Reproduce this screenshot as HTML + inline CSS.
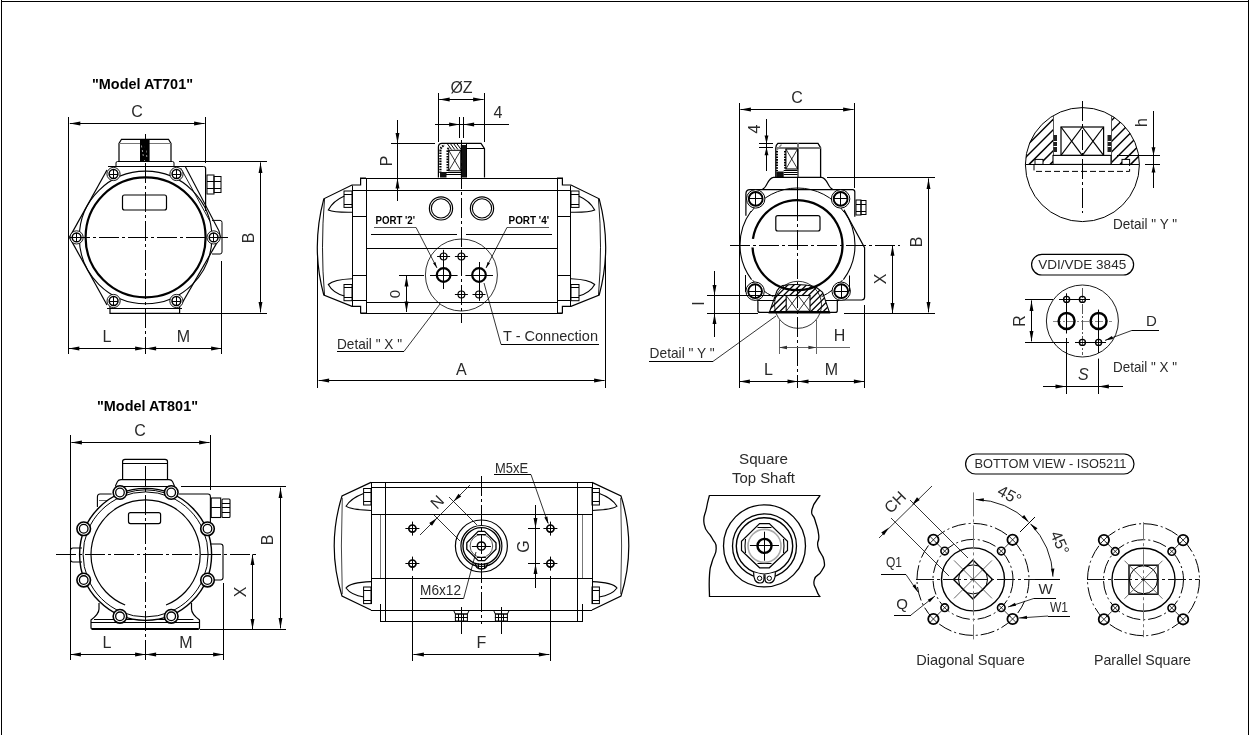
<!DOCTYPE html>
<html><head><meta charset="utf-8"><style>
html,body{margin:0;padding:0;background:#fff;width:1250px;height:735px;overflow:hidden}
svg{display:block;font-family:"Liberation Sans", sans-serif;will-change:transform}
</style></head><body>
<svg width="1250" height="735" viewBox="0 0 1250 735">
<defs><pattern id="hatch" patternUnits="userSpaceOnUse" width="4.6" height="4.6" patternTransform="rotate(45)"><line x1="0" y1="0" x2="0" y2="4.6" stroke="#000" stroke-width="1.35"/></pattern><pattern id="hatch2" patternUnits="userSpaceOnUse" width="6.4" height="6.4" patternTransform="rotate(45)"><line x1="0" y1="0" x2="0" y2="6.4" stroke="#000" stroke-width="1.7"/></pattern></defs>
<line x1="1.5" y1="0" x2="1.5" y2="735" stroke="#000" stroke-width="1"/>
<line x1="1" y1="1.5" x2="1249" y2="1.5" stroke="#000" stroke-width="1"/>
<line x1="1248.5" y1="0" x2="1248.5" y2="735" stroke="#000" stroke-width="1"/>
<text x="142.5" y="89" font-size="14" font-weight="bold" text-anchor="middle" fill="#000" textLength="101" lengthAdjust="spacingAndGlyphs">"Model AT701"</text>
<text x="137" y="117" font-size="16" font-weight="normal" text-anchor="middle" fill="#2a2a2a">C</text>
<line x1="69.8" y1="123.5" x2="204.6" y2="123.5" stroke="#000" stroke-width="1"/>
<path d="M69.8,123.5 L80.3,121.55 L80.3,125.45 Z" fill="#000" stroke="none"/>
<path d="M204.6,123.5 L194.1,125.45 L194.1,121.55 Z" fill="#000" stroke="none"/>
<line x1="68.5" y1="117" x2="68.5" y2="354" stroke="#000" stroke-width="1"/>
<line x1="205.5" y1="117" x2="205.5" y2="163" stroke="#000" stroke-width="1"/>
<path d="M119,161 V143.5 L121.5,139.3 H168.5 L171,143.5 V161" fill="none" stroke="#000" stroke-width="1.2"/>
<line x1="119" y1="143.5" x2="171" y2="143.5" stroke="#777" stroke-width="1"/>
<rect x="140" y="139.5" width="9.6" height="21.5" fill="#000" stroke="none"/>
<line x1="141.5" y1="145.5" x2="141.7" y2="147.5" stroke="#fff" stroke-width="0.6"/>
<line x1="142.3" y1="150" x2="142.6" y2="152" stroke="#fff" stroke-width="0.6"/>
<line x1="143" y1="154" x2="143.3" y2="156" stroke="#fff" stroke-width="0.6"/>
<line x1="144.5" y1="160" x2="144.7" y2="162" stroke="#fff" stroke-width="0.6"/>
<line x1="145.4" y1="146.5" x2="145.5" y2="148.5" stroke="#fff" stroke-width="0.6"/>
<line x1="146" y1="150.5" x2="146.2" y2="152.5" stroke="#fff" stroke-width="0.6"/>
<line x1="146.6" y1="155" x2="146.8" y2="157" stroke="#fff" stroke-width="0.6"/>
<line x1="145.5" y1="134" x2="145.5" y2="161" stroke="#000" stroke-width="1"/>
<path d="M116,166.5 V163 Q116,161.5 117.5,161.5 H172.5 Q174,161.5 174,163 V166.5" fill="none" stroke="#000" stroke-width="1"/>
<line x1="119" y1="161.5" x2="171" y2="161.5" stroke="#000" stroke-width="1"/>
<line x1="179" y1="161.5" x2="267" y2="161.5" stroke="#000" stroke-width="1"/>
<line x1="179.6" y1="313.5" x2="267" y2="313.5" stroke="#000" stroke-width="1"/>
<line x1="260.5" y1="162.4" x2="260.5" y2="312.4" stroke="#000" stroke-width="1"/>
<path d="M260.5,162.4 L262.45,172.9 L258.55,172.9 Z" fill="#000" stroke="none"/>
<path d="M260.5,312.4 L258.55,301.9 L262.45,301.9 Z" fill="#000" stroke="none"/>
<text x="254" y="238" font-size="16" font-weight="normal" text-anchor="middle" fill="#2a2a2a" transform="rotate(-90 254 238)">B</text>
<line x1="108" y1="166.5" x2="203.6" y2="166.5" stroke="#000" stroke-width="1"/>
<path d="M203.6,166.5 Q205.6,166.5 205.6,168.5 V211" fill="none" stroke="#000" stroke-width="1.2"/>
<line x1="107" y1="170" x2="69.5" y2="237.4" stroke="#000" stroke-width="1.2"/>
<line x1="69.5" y1="237.4" x2="107" y2="305" stroke="#000" stroke-width="1.2"/>
<line x1="185.4" y1="166.8" x2="219" y2="231" stroke="#000" stroke-width="1.1"/>
<line x1="180.7" y1="168" x2="210" y2="221.3" stroke="#000" stroke-width="0.9"/>
<line x1="220" y1="237.4" x2="181" y2="305" stroke="#000" stroke-width="1.2"/>
<line x1="219" y1="231" x2="220.5" y2="237.4" stroke="#000" stroke-width="1.1"/>
<path d="M110,305 V313.4 H179.6 V305" fill="none" stroke="#000" stroke-width="1.2"/>
<line x1="107" y1="308.5" x2="182" y2="308.5" stroke="#000" stroke-width="1"/>
<circle cx="145.6" cy="237.4" r="66.3" fill="none" stroke="#000" stroke-width="1.1"/>
<circle cx="145.6" cy="237.4" r="60" fill="none" stroke="#000" stroke-width="2.2"/>
<rect x="122.5" y="195" width="44" height="15" rx="2" fill="none" stroke="#000" stroke-width="1.2"/>
<circle cx="113.5" cy="174" r="6.6" fill="#fff" stroke="none"/>
<circle cx="113.5" cy="174" r="6.6" fill="none" stroke="#000" stroke-width="0.9"/>
<circle cx="113.5" cy="174" r="4.4" fill="none" stroke="#000" stroke-width="1.5"/>
<line x1="109.1" y1="174.5" x2="117.9" y2="174.5" stroke="#000" stroke-width="1"/>
<line x1="113.5" y1="169.6" x2="113.5" y2="178.4" stroke="#000" stroke-width="1"/>
<circle cx="176.5" cy="174" r="6.6" fill="#fff" stroke="none"/>
<circle cx="176.5" cy="174" r="6.6" fill="none" stroke="#000" stroke-width="0.9"/>
<circle cx="176.5" cy="174" r="4.4" fill="none" stroke="#000" stroke-width="1.5"/>
<line x1="172.1" y1="174.5" x2="180.9" y2="174.5" stroke="#000" stroke-width="1"/>
<line x1="176.5" y1="169.6" x2="176.5" y2="178.4" stroke="#000" stroke-width="1"/>
<circle cx="76.6" cy="237.4" r="6.6" fill="#fff" stroke="none"/>
<circle cx="76.6" cy="237.4" r="6.6" fill="none" stroke="#000" stroke-width="0.9"/>
<circle cx="76.6" cy="237.4" r="4.4" fill="none" stroke="#000" stroke-width="1.5"/>
<line x1="72.2" y1="237.5" x2="81" y2="237.5" stroke="#000" stroke-width="1"/>
<line x1="76.5" y1="233" x2="76.5" y2="241.8" stroke="#000" stroke-width="1"/>
<circle cx="213.6" cy="237.4" r="6.6" fill="#fff" stroke="none"/>
<circle cx="213.6" cy="237.4" r="6.6" fill="none" stroke="#000" stroke-width="0.9"/>
<circle cx="213.6" cy="237.4" r="4.4" fill="none" stroke="#000" stroke-width="1.5"/>
<line x1="209.2" y1="237.5" x2="218" y2="237.5" stroke="#000" stroke-width="1"/>
<line x1="213.5" y1="233" x2="213.5" y2="241.8" stroke="#000" stroke-width="1"/>
<circle cx="113.6" cy="301" r="6.6" fill="#fff" stroke="none"/>
<circle cx="113.6" cy="301" r="6.6" fill="none" stroke="#000" stroke-width="0.9"/>
<circle cx="113.6" cy="301" r="4.4" fill="none" stroke="#000" stroke-width="1.5"/>
<line x1="109.2" y1="301.5" x2="118" y2="301.5" stroke="#000" stroke-width="1"/>
<line x1="113.5" y1="296.6" x2="113.5" y2="305.4" stroke="#000" stroke-width="1"/>
<circle cx="176.4" cy="301" r="6.6" fill="#fff" stroke="none"/>
<circle cx="176.4" cy="301" r="6.6" fill="none" stroke="#000" stroke-width="0.9"/>
<circle cx="176.4" cy="301" r="4.4" fill="none" stroke="#000" stroke-width="1.5"/>
<line x1="172" y1="301.5" x2="180.8" y2="301.5" stroke="#000" stroke-width="1"/>
<line x1="176.5" y1="296.6" x2="176.5" y2="305.4" stroke="#000" stroke-width="1"/>
<path d="M212,220.4 H220 Q222,220.4 222,222.4 V252 Q222,254 220,254 H212" fill="none" stroke="#000" stroke-width="1"/>
<rect x="207" y="175" width="7" height="19" fill="none" stroke="#000" stroke-width="1"/>
<rect x="214" y="176.5" width="7" height="16" fill="none" stroke="#000" stroke-width="1"/>
<line x1="207" y1="181.5" x2="214" y2="181.5" stroke="#000" stroke-width="1"/>
<line x1="207" y1="188.5" x2="214" y2="188.5" stroke="#000" stroke-width="1"/>
<line x1="214" y1="181.5" x2="221" y2="181.5" stroke="#000" stroke-width="1"/>
<line x1="214" y1="188.5" x2="221" y2="188.5" stroke="#000" stroke-width="1"/>
<line x1="221.5" y1="261" x2="221.5" y2="354" stroke="#000" stroke-width="1"/>
<line x1="145.5" y1="134" x2="145.5" y2="354" stroke="#000" stroke-width="1" stroke-dasharray="20 3 3 3"/>
<line x1="70" y1="237.5" x2="228" y2="237.5" stroke="#000" stroke-width="1" stroke-dasharray="20 3 3 3"/>
<line x1="68.8" y1="348.5" x2="221.6" y2="348.5" stroke="#000" stroke-width="1"/>
<path d="M68.8,348.5 L79.3,346.55 L79.3,350.45 Z" fill="#000" stroke="none"/>
<path d="M145.6,348.5 L135.1,350.45 L135.1,346.55 Z" fill="#000" stroke="none"/>
<path d="M145.6,348.5 L156.1,346.55 L156.1,350.45 Z" fill="#000" stroke="none"/>
<path d="M221.6,348.5 L211.1,350.45 L211.1,346.55 Z" fill="#000" stroke="none"/>
<text x="107" y="342" font-size="16" font-weight="normal" text-anchor="middle" fill="#2a2a2a">L</text>
<text x="183.5" y="342" font-size="16" font-weight="normal" text-anchor="middle" fill="#2a2a2a">M</text>
<text x="461.5" y="93" font-size="16" font-weight="normal" text-anchor="middle" fill="#2a2a2a">ØZ</text>
<line x1="439.2" y1="99.5" x2="483.6" y2="99.5" stroke="#000" stroke-width="1"/>
<path d="M439.2,99.5 L449.7,97.55 L449.7,101.45 Z" fill="#000" stroke="none"/>
<path d="M483.6,99.5 L473.1,101.45 L473.1,97.55 Z" fill="#000" stroke="none"/>
<line x1="438.5" y1="93" x2="438.5" y2="142" stroke="#000" stroke-width="1"/>
<line x1="484.5" y1="93" x2="484.5" y2="142" stroke="#000" stroke-width="1"/>
<text x="498" y="118" font-size="16" font-weight="normal" text-anchor="middle" fill="#2a2a2a">4</text>
<line x1="435" y1="124.5" x2="509" y2="124.5" stroke="#000" stroke-width="1"/>
<path d="M459.6,124.5 L449.1,126.45 L449.1,122.55 Z" fill="#000" stroke="none"/>
<path d="M463.6,124.5 L474.1,122.55 L474.1,126.45 Z" fill="#000" stroke="none"/>
<line x1="459.5" y1="117" x2="459.5" y2="138" stroke="#000" stroke-width="1"/>
<line x1="463.5" y1="117" x2="463.5" y2="138" stroke="#000" stroke-width="1"/>
<line x1="397.5" y1="120" x2="397.5" y2="201" stroke="#000" stroke-width="1"/>
<path d="M397.5,143.4 L395.55,132.9 L399.45,132.9 Z" fill="#000" stroke="none"/>
<path d="M397.5,178 L399.45,188.5 L395.55,188.5 Z" fill="#000" stroke="none"/>
<line x1="391" y1="143.5" x2="435" y2="143.5" stroke="#000" stroke-width="1"/>
<line x1="391" y1="178.5" x2="435" y2="178.5" stroke="#000" stroke-width="1"/>
<text x="392" y="161" font-size="16" font-weight="normal" text-anchor="middle" fill="#2a2a2a" transform="rotate(-90 392 161)">P</text>
<path d="M438.4,177.5 V147 Q438.4,143.3 442,143.3 H481 L484.5,148.7 V177.5" fill="none" stroke="#000" stroke-width="1.2"/>
<line x1="466.5" y1="143.3" x2="466.5" y2="177.5" stroke="#000" stroke-width="1"/>
<line x1="466" y1="148.5" x2="484.5" y2="148.5" stroke="#000" stroke-width="1"/>
<rect x="448.7" y="150.3" width="12.1" height="20.5" fill="none" stroke="#000" stroke-width="1"/>
<line x1="448.7" y1="150.3" x2="460.8" y2="170.8" stroke="#000" stroke-width="0.8"/>
<line x1="460.8" y1="150.3" x2="448.7" y2="170.8" stroke="#000" stroke-width="0.8"/>
<rect x="460.8" y="145" width="5.2" height="32.5" fill="#111" stroke="none"/>
<path d="M440.4,173 V151 Q440.4,146 445,145.5" fill="none" stroke="#000" stroke-width="2.2" stroke-dasharray="1.6 1.1"/>
<path d="M447.6,171 V151 Q447.6,148 450,147.5" fill="none" stroke="#000" stroke-width="2.2" stroke-dasharray="1.6 1.1"/>
<rect x="440" y="172" width="6.5" height="5.5" fill="#111" stroke="none"/>
<line x1="447.5" y1="144" x2="451.5" y2="149.5" stroke="#000" stroke-width="1"/>
<line x1="450.7" y1="144" x2="454.7" y2="149.5" stroke="#000" stroke-width="1"/>
<line x1="453.9" y1="144" x2="457.9" y2="149.5" stroke="#000" stroke-width="1"/>
<line x1="457.1" y1="144" x2="461.1" y2="149.5" stroke="#000" stroke-width="1"/>
<line x1="446" y1="172.5" x2="461" y2="172.5" stroke="#000" stroke-width="1"/>
<line x1="446" y1="174.5" x2="461" y2="174.5" stroke="#000" stroke-width="1"/>
<line x1="360.6" y1="178.5" x2="562.4" y2="178.5" stroke="#000" stroke-width="1"/>
<line x1="366" y1="190.5" x2="557" y2="190.5" stroke="#000" stroke-width="1"/>
<line x1="366" y1="248.5" x2="557" y2="248.5" stroke="#000" stroke-width="1"/>
<line x1="366" y1="302.5" x2="557" y2="302.5" stroke="#000" stroke-width="1"/>
<line x1="360.6" y1="313.5" x2="562.4" y2="313.5" stroke="#000" stroke-width="1"/>
<line x1="366.5" y1="178" x2="366.5" y2="313" stroke="#000" stroke-width="1"/>
<line x1="557.5" y1="178" x2="557.5" y2="313" stroke="#000" stroke-width="1"/>
<line x1="371" y1="234.5" x2="457" y2="234.5" stroke="#000" stroke-width="1"/>
<line x1="466" y1="234.5" x2="552" y2="234.5" stroke="#000" stroke-width="1"/>
<path d="M366,178 H360.6 V185 H352 L323.8,198.8 Q310.8,247.4 323.8,295 L352,306.4 H360.6 V313 H366" fill="none" stroke="#000" stroke-width="1.2"/>
<path d="M324.5,199 Q320.5,247.4 324.5,295" fill="none" stroke="#000" stroke-width="0.9"/>
<line x1="352.5" y1="185.5" x2="352.5" y2="306.4" stroke="#000" stroke-width="1"/>
<line x1="352" y1="190.5" x2="366" y2="190.5" stroke="#000" stroke-width="1"/>
<line x1="352" y1="216.5" x2="366" y2="216.5" stroke="#000" stroke-width="1"/>
<line x1="352" y1="275.5" x2="366" y2="275.5" stroke="#000" stroke-width="1"/>
<line x1="352" y1="300.5" x2="366" y2="300.5" stroke="#000" stroke-width="1"/>
<rect x="344" y="191" width="8" height="16.4" fill="none" stroke="#000" stroke-width="1"/>
<line x1="344" y1="194.5" x2="352" y2="194.5" stroke="#000" stroke-width="1"/>
<line x1="344" y1="204.5" x2="352" y2="204.5" stroke="#000" stroke-width="1"/>
<rect x="344" y="284.5" width="8" height="16.2" fill="none" stroke="#000" stroke-width="1"/>
<line x1="344" y1="287.5" x2="352" y2="287.5" stroke="#000" stroke-width="1"/>
<line x1="344" y1="297.5" x2="352" y2="297.5" stroke="#000" stroke-width="1"/>
<path d="M344.4,196 Q333,201 328.3,210 Q334,212.5 352,212.2" fill="none" stroke="#000" stroke-width="1.1"/>
<path d="M352,278.8 Q334,279.5 328.3,284.5 Q333,293 344.4,296" fill="none" stroke="#000" stroke-width="1.1"/>
<g transform="translate(923.0 0) scale(-1 1)"><path d="M366,178 H360.6 V185 H352 L323.8,198.8 Q310.8,247.4 323.8,295 L352,306.4 H360.6 V313 H366" fill="none" stroke="#000" stroke-width="1.2"/><path d="M324.5,199 Q320.5,247.4 324.5,295" fill="none" stroke="#000" stroke-width="0.9"/><line x1="352.5" y1="185.5" x2="352.5" y2="306.4" stroke="#000" stroke-width="1"/><line x1="352" y1="190.5" x2="366" y2="190.5" stroke="#000" stroke-width="1"/><line x1="352" y1="216.5" x2="366" y2="216.5" stroke="#000" stroke-width="1"/><line x1="352" y1="275.5" x2="366" y2="275.5" stroke="#000" stroke-width="1"/><line x1="352" y1="300.5" x2="366" y2="300.5" stroke="#000" stroke-width="1"/><rect x="344" y="191" width="8" height="16.4" fill="none" stroke="#000" stroke-width="1"/><line x1="344" y1="194.5" x2="352" y2="194.5" stroke="#000" stroke-width="1"/><line x1="344" y1="204.5" x2="352" y2="204.5" stroke="#000" stroke-width="1"/><rect x="344" y="284.5" width="8" height="16.2" fill="none" stroke="#000" stroke-width="1"/><line x1="344" y1="287.5" x2="352" y2="287.5" stroke="#000" stroke-width="1"/><line x1="344" y1="297.5" x2="352" y2="297.5" stroke="#000" stroke-width="1"/><path d="M344.4,196 Q333,201 328.3,210 Q334,212.5 352,212.2" fill="none" stroke="#000" stroke-width="1.1"/><path d="M352,278.8 Q334,279.5 328.3,284.5 Q333,293 344.4,296" fill="none" stroke="#000" stroke-width="1.1"/></g>
<circle cx="441" cy="208.4" r="11.6" fill="none" stroke="#000" stroke-width="1.2"/>
<circle cx="441" cy="208.4" r="9.6" fill="none" stroke="#000" stroke-width="1.1"/>
<circle cx="482" cy="208.4" r="11.6" fill="none" stroke="#000" stroke-width="1.2"/>
<circle cx="482" cy="208.4" r="9.6" fill="none" stroke="#000" stroke-width="1.1"/>
<text x="395.3" y="223.6" font-size="10" font-weight="bold" text-anchor="middle" fill="#000" textLength="39.5" lengthAdjust="spacingAndGlyphs">PORT '2'</text>
<text x="528.8" y="223.6" font-size="10" font-weight="bold" text-anchor="middle" fill="#000" textLength="40.5" lengthAdjust="spacingAndGlyphs">PORT '4'</text>
<line x1="374" y1="227.5" x2="416" y2="227.5" stroke="#555" stroke-width="1"/>
<line x1="416" y1="227.4" x2="437" y2="268" stroke="#000" stroke-width="0.8"/>
<path d="M437,268 L433.09,263.27 L435.4,262.07 Z" fill="#000" stroke="none"/>
<line x1="507" y1="227.5" x2="549" y2="227.5" stroke="#555" stroke-width="1"/>
<line x1="507" y1="227.4" x2="486" y2="268" stroke="#000" stroke-width="0.8"/>
<path d="M486,268 L487.6,262.07 L489.91,263.27 Z" fill="#000" stroke="none"/>
<circle cx="461.4" cy="275" r="36" fill="none" stroke="#000" stroke-width="0.8"/>
<circle cx="443.6" cy="275" r="6.8" fill="none" stroke="#000" stroke-width="2.2"/>
<line x1="430" y1="275.5" x2="457.6" y2="275.5" stroke="#000" stroke-width="1"/>
<line x1="443.5" y1="262" x2="443.5" y2="289" stroke="#000" stroke-width="1"/>
<circle cx="479" cy="275" r="6.8" fill="none" stroke="#000" stroke-width="2.2"/>
<line x1="465.4" y1="275.5" x2="493" y2="275.5" stroke="#000" stroke-width="1"/>
<line x1="479.5" y1="262" x2="479.5" y2="289" stroke="#000" stroke-width="1"/>
<circle cx="443.6" cy="256.4" r="3.4" fill="none" stroke="#000" stroke-width="1.2"/>
<line x1="437.1" y1="256.5" x2="450.1" y2="256.5" stroke="#000" stroke-width="1"/>
<line x1="443.5" y1="249.9" x2="443.5" y2="262.9" stroke="#000" stroke-width="1"/>
<circle cx="461.4" cy="256.4" r="3.4" fill="none" stroke="#000" stroke-width="1.2"/>
<line x1="454.9" y1="256.5" x2="467.9" y2="256.5" stroke="#000" stroke-width="1"/>
<line x1="461.5" y1="249.9" x2="461.5" y2="262.9" stroke="#000" stroke-width="1"/>
<circle cx="461.4" cy="294.4" r="3.4" fill="none" stroke="#000" stroke-width="1.2"/>
<line x1="454.9" y1="294.5" x2="467.9" y2="294.5" stroke="#000" stroke-width="1"/>
<line x1="461.5" y1="287.9" x2="461.5" y2="300.9" stroke="#000" stroke-width="1"/>
<circle cx="479" cy="294.4" r="3.4" fill="none" stroke="#000" stroke-width="1.2"/>
<line x1="472.5" y1="294.5" x2="485.5" y2="294.5" stroke="#000" stroke-width="1"/>
<line x1="479.5" y1="287.9" x2="479.5" y2="300.9" stroke="#000" stroke-width="1"/>
<line x1="399" y1="275.5" x2="424" y2="275.5" stroke="#000" stroke-width="1"/>
<line x1="399" y1="313.5" x2="424" y2="313.5" stroke="#000" stroke-width="1"/>
<line x1="406.5" y1="276" x2="406.5" y2="312" stroke="#000" stroke-width="1"/>
<path d="M406.5,276 L408.45,286.5 L404.55,286.5 Z" fill="#000" stroke="none"/>
<path d="M406.5,312 L404.55,301.5 L408.45,301.5 Z" fill="#000" stroke="none"/>
<text x="399.5" y="294" font-size="15" font-weight="normal" text-anchor="middle" fill="#2a2a2a" transform="rotate(-90 399.5 294)">0</text>
<text x="337" y="349" font-size="15" font-weight="normal" text-anchor="start" fill="#2a2a2a" textLength="65" lengthAdjust="spacingAndGlyphs">Detail " X "</text>
<line x1="337" y1="351.5" x2="404" y2="351.5" stroke="#000" stroke-width="1"/>
<line x1="404" y1="351.4" x2="440" y2="304" stroke="#000" stroke-width="0.8"/>
<text x="503" y="340.5" font-size="15" font-weight="normal" text-anchor="start" fill="#2a2a2a" textLength="95" lengthAdjust="spacingAndGlyphs">T - Connection</text>
<line x1="501" y1="344.5" x2="599" y2="344.5" stroke="#000" stroke-width="1"/>
<line x1="501" y1="344.4" x2="484" y2="283" stroke="#000" stroke-width="0.8"/>
<line x1="317.5" y1="257" x2="317.5" y2="388" stroke="#000" stroke-width="1"/>
<line x1="605.5" y1="250" x2="605.5" y2="388" stroke="#000" stroke-width="1"/>
<line x1="318.6" y1="380.5" x2="604.6" y2="380.5" stroke="#000" stroke-width="1"/>
<path d="M318.6,380.5 L329.1,378.55 L329.1,382.45 Z" fill="#000" stroke="none"/>
<path d="M604.6,380.5 L594.1,382.45 L594.1,378.55 Z" fill="#000" stroke="none"/>
<text x="461.3" y="375" font-size="16" font-weight="normal" text-anchor="middle" fill="#2a2a2a">A</text>
<line x1="461.5" y1="140" x2="461.5" y2="323" stroke="#000" stroke-width="1" stroke-dasharray="20 3 3 3"/>
<text x="797" y="103" font-size="16" font-weight="normal" text-anchor="middle" fill="#2a2a2a">C</text>
<line x1="740.4" y1="109.5" x2="853.6" y2="109.5" stroke="#000" stroke-width="1"/>
<path d="M740.4,109.5 L750.9,107.55 L750.9,111.45 Z" fill="#000" stroke="none"/>
<path d="M853.6,109.5 L843.1,111.45 L843.1,107.55 Z" fill="#000" stroke="none"/>
<line x1="739.5" y1="103" x2="739.5" y2="388" stroke="#000" stroke-width="1"/>
<line x1="854.5" y1="103" x2="854.5" y2="188" stroke="#000" stroke-width="1"/>
<text x="760" y="129" font-size="16" font-weight="normal" text-anchor="middle" fill="#2a2a2a" transform="rotate(-90 760 129)">4</text>
<line x1="766.5" y1="119" x2="766.5" y2="171" stroke="#000" stroke-width="1"/>
<path d="M766.5,143.6 L764.55,135.6 L768.45,135.6 Z" fill="#000" stroke="none"/>
<path d="M766.5,147.2 L768.45,155.2 L764.55,155.2 Z" fill="#000" stroke="none"/>
<line x1="759" y1="143.5" x2="773" y2="143.5" stroke="#000" stroke-width="1"/>
<line x1="759" y1="147.5" x2="773" y2="147.5" stroke="#000" stroke-width="1"/>
<path d="M775.8,177.5 V148 Q775.8,145 778,143.3 H818 L820.6,147.6 V177.5" fill="none" stroke="#000" stroke-width="1.3"/>
<line x1="776" y1="148" x2="820.6" y2="148" stroke="#777" stroke-width="2"/>
<line x1="798" y1="143.3" x2="798" y2="177.5" stroke="#777" stroke-width="2"/>
<rect x="785.9" y="149" width="11.7" height="20" fill="none" stroke="#000" stroke-width="1.1"/>
<line x1="785.9" y1="149" x2="797.6" y2="169" stroke="#000" stroke-width="0.8"/>
<line x1="797.6" y1="149" x2="785.9" y2="169" stroke="#000" stroke-width="0.8"/>
<line x1="777" y1="151" x2="777" y2="171" stroke="#000" stroke-width="2" stroke-dasharray="1.6 1.1"/>
<line x1="785" y1="151" x2="785" y2="168.5" stroke="#000" stroke-width="2" stroke-dasharray="1.6 1.1"/>
<line x1="777" y1="150" x2="781.5" y2="144.5" stroke="#888" stroke-width="1.2"/>
<rect x="776.3" y="171.5" width="7.4" height="5.5" fill="#111" stroke="none"/>
<line x1="783.7" y1="170.5" x2="797.6" y2="170.5" stroke="#000" stroke-width="1"/>
<line x1="783.7" y1="172.5" x2="797.6" y2="172.5" stroke="#000" stroke-width="1"/>
<line x1="783.7" y1="174.5" x2="797.6" y2="174.5" stroke="#000" stroke-width="1"/>
<path d="M762.4,189.2 C767,188.5 767.5,177.8 773.5,177.4 H821.5 C827.5,177.8 828,188.5 832.6,189.2" fill="none" stroke="#000" stroke-width="1.2"/>
<line x1="827" y1="177.5" x2="935" y2="177.5" stroke="#000" stroke-width="1"/>
<path d="M750,189.6 H852.6 Q854.8,189.6 854.8,192 V216.8" fill="none" stroke="#000" stroke-width="1.2"/>
<path d="M750,189.6 Q745.9,189.6 745.9,194 V215.7" fill="none" stroke="#000" stroke-width="1.2"/>
<path d="M844,209.7 L864.6,247.6 V297 Q864.6,300 861.6,300 H839.5" fill="none" stroke="#000" stroke-width="1.2"/>
<line x1="745.5" y1="275" x2="745.5" y2="292" stroke="#000" stroke-width="1"/>
<path d="M751.58,279.6 A57.5,57.5 0 0 1 750.98,211.2" fill="none" stroke="#000" stroke-width="1.1"/>
<path d="M844.02,211.2 A57.5,57.5 0 0 1 843.42,279.6" fill="none" stroke="#000" stroke-width="1.1"/>
<path d="M750.81,212.31 A57,57 0 0 1 844.19,212.31" fill="none" stroke="#000" stroke-width="1"/>
<path d="M842.42,280.09 A57,57 0 0 1 821.59,296.66" fill="none" stroke="#000" stroke-width="1"/>
<path d="M773.41,296.66 A57,57 0 0 1 752.58,280.09" fill="none" stroke="#000" stroke-width="1"/>
<path d="M752.94,238.94 A45,45 0 1 1 752.56,247.56" fill="none" stroke="#000" stroke-width="2.3"/>
<path d="M756.8,300 Q757.9,300 757.9,302 V310.4 Q757.9,312.4 760,312.4 H835.3 Q837.3,312.4 837.3,310.4 V302 Q837.3,300 839.5,300" fill="none" stroke="#000" stroke-width="1.2"/>
<circle cx="755.7" cy="198.9" r="9.2" fill="#fff" stroke="none"/>
<circle cx="755.7" cy="198.9" r="9.2" fill="none" stroke="#000" stroke-width="1"/>
<circle cx="755.7" cy="198.9" r="6.9" fill="none" stroke="#000" stroke-width="1.9"/>
<line x1="748.8" y1="198.5" x2="762.6" y2="198.5" stroke="#000" stroke-width="1"/>
<line x1="755.5" y1="192" x2="755.5" y2="205.8" stroke="#000" stroke-width="1"/>
<circle cx="840.6" cy="198.9" r="9.2" fill="#fff" stroke="none"/>
<circle cx="840.6" cy="198.9" r="9.2" fill="none" stroke="#000" stroke-width="1"/>
<circle cx="840.6" cy="198.9" r="6.9" fill="none" stroke="#000" stroke-width="1.9"/>
<line x1="833.7" y1="198.5" x2="847.5" y2="198.5" stroke="#000" stroke-width="1"/>
<line x1="840.5" y1="192" x2="840.5" y2="205.8" stroke="#000" stroke-width="1"/>
<circle cx="755.1" cy="291.2" r="9.2" fill="#fff" stroke="none"/>
<circle cx="755.1" cy="291.2" r="9.2" fill="none" stroke="#000" stroke-width="1"/>
<circle cx="755.1" cy="291.2" r="6.9" fill="none" stroke="#000" stroke-width="1.9"/>
<line x1="748.2" y1="291.5" x2="762" y2="291.5" stroke="#000" stroke-width="1"/>
<line x1="755.5" y1="284.3" x2="755.5" y2="298.1" stroke="#000" stroke-width="1"/>
<circle cx="841.2" cy="291.2" r="9.2" fill="#fff" stroke="none"/>
<circle cx="841.2" cy="291.2" r="9.2" fill="none" stroke="#000" stroke-width="1"/>
<circle cx="841.2" cy="291.2" r="6.9" fill="none" stroke="#000" stroke-width="1.9"/>
<line x1="834.3" y1="291.5" x2="848.1" y2="291.5" stroke="#000" stroke-width="1"/>
<line x1="841.5" y1="284.3" x2="841.5" y2="298.1" stroke="#000" stroke-width="1"/>
<rect x="775.8" y="215.7" width="44.2" height="15.3" rx="2" fill="none" stroke="#000" stroke-width="1.2"/>
<rect x="856" y="200" width="5" height="15" fill="none" stroke="#000" stroke-width="1"/>
<rect x="861" y="200.5" width="5" height="14" fill="none" stroke="#000" stroke-width="1"/>
<line x1="856" y1="204.5" x2="866" y2="204.5" stroke="#000" stroke-width="1"/>
<line x1="856" y1="211.5" x2="866" y2="211.5" stroke="#000" stroke-width="1"/>
<clipPath id="hc1"><path d="M769.2,312.9 L777,290.8 Q779,287 782.6,285.5 Q798,283 815.3,286.5 L822.6,292.4 L829.6,312.9 Z"/></clipPath>
<g clip-path="url(#hc1)">
<line x1="735" y1="313" x2="765" y2="283" stroke="#000" stroke-width="1.3"/>
<line x1="741.2" y1="313" x2="771.2" y2="283" stroke="#000" stroke-width="1.3"/>
<line x1="747.4" y1="313" x2="777.4" y2="283" stroke="#000" stroke-width="1.3"/>
<line x1="753.6" y1="313" x2="783.6" y2="283" stroke="#000" stroke-width="1.3"/>
<line x1="759.8" y1="313" x2="789.8" y2="283" stroke="#000" stroke-width="1.3"/>
<line x1="766" y1="313" x2="796" y2="283" stroke="#000" stroke-width="1.3"/>
<line x1="772.2" y1="313" x2="802.2" y2="283" stroke="#000" stroke-width="1.3"/>
<line x1="778.4" y1="313" x2="808.4" y2="283" stroke="#000" stroke-width="1.3"/>
<line x1="784.6" y1="313" x2="814.6" y2="283" stroke="#000" stroke-width="1.3"/>
<line x1="790.8" y1="313" x2="820.8" y2="283" stroke="#000" stroke-width="1.3"/>
<line x1="797" y1="313" x2="827" y2="283" stroke="#000" stroke-width="1.3"/>
<line x1="803.2" y1="313" x2="833.2" y2="283" stroke="#000" stroke-width="1.3"/>
<line x1="809.4" y1="313" x2="839.4" y2="283" stroke="#000" stroke-width="1.3"/>
<line x1="815.6" y1="313" x2="845.6" y2="283" stroke="#000" stroke-width="1.3"/>
<line x1="821.8" y1="313" x2="851.8" y2="283" stroke="#000" stroke-width="1.3"/>
<line x1="828" y1="313" x2="858" y2="283" stroke="#000" stroke-width="1.3"/>
<line x1="834.2" y1="313" x2="864.2" y2="283" stroke="#000" stroke-width="1.3"/>
</g>
<path d="M769.2,312.9 L777,290.8 Q779,287 782.6,285.5 Q798,283 815.3,286.5 L822.6,292.4 L829.6,312.9 Z" fill="none" stroke="#000" stroke-width="1.1"/>
<rect x="786.2" y="295.5" width="23.8" height="15.8" fill="#fff" stroke="#000" stroke-width="1.1"/>
<line x1="786.2" y1="295.5" x2="798" y2="311.3" stroke="#000" stroke-width="0.8"/>
<line x1="798" y1="295.5" x2="786.2" y2="311.3" stroke="#000" stroke-width="0.8"/>
<line x1="798" y1="295.5" x2="810" y2="311.3" stroke="#000" stroke-width="0.8"/>
<line x1="810" y1="295.5" x2="798" y2="311.3" stroke="#000" stroke-width="0.8"/>
<line x1="769.3" y1="312" x2="829.7" y2="312" stroke="#000" stroke-width="2"/>
<line x1="757.8" y1="300.5" x2="775" y2="300.5" stroke="#000" stroke-width="1"/>
<line x1="826" y1="300.5" x2="839.5" y2="300.5" stroke="#000" stroke-width="1"/>
<circle cx="798" cy="304.8" r="23.5" fill="none" stroke="#000" stroke-width="0.8"/>
<line x1="730" y1="245.5" x2="900" y2="245.5" stroke="#000" stroke-width="1" stroke-dasharray="20 3 3 3"/>
<line x1="849.5" y1="275.5" x2="849.5" y2="291.5" stroke="#000" stroke-width="1"/>
<line x1="745.5" y1="275.5" x2="745.5" y2="291.5" stroke="#000" stroke-width="1"/>
<line x1="797.5" y1="177.5" x2="797.5" y2="201" stroke="#000" stroke-width="1"/>
<line x1="797.5" y1="201" x2="797.5" y2="388" stroke="#000" stroke-width="1" stroke-dasharray="20 3 3 3"/>
<line x1="844" y1="313.5" x2="935" y2="313.5" stroke="#000" stroke-width="1"/>
<line x1="928.5" y1="178.4" x2="928.5" y2="312.4" stroke="#000" stroke-width="1"/>
<path d="M928.5,178.4 L930.45,188.9 L926.55,188.9 Z" fill="#000" stroke="none"/>
<path d="M928.5,312.4 L926.55,301.9 L930.45,301.9 Z" fill="#000" stroke="none"/>
<text x="922" y="242" font-size="16" font-weight="normal" text-anchor="middle" fill="#2a2a2a" transform="rotate(-90 922 242)">B</text>
<line x1="892.5" y1="245.2" x2="892.5" y2="313.4" stroke="#000" stroke-width="1"/>
<path d="M892.5,245.2 L894.45,255.7 L890.55,255.7 Z" fill="#000" stroke="none"/>
<path d="M892.5,313.4 L890.55,302.9 L894.45,302.9 Z" fill="#000" stroke="none"/>
<text x="886" y="279" font-size="16" font-weight="normal" text-anchor="middle" fill="#2a2a2a" transform="rotate(-90 886 279)">X</text>
<line x1="864.5" y1="305" x2="864.5" y2="388" stroke="#000" stroke-width="1"/>
<line x1="739.4" y1="381.5" x2="864.4" y2="381.5" stroke="#000" stroke-width="1"/>
<path d="M739.4,381.5 L749.9,379.55 L749.9,383.45 Z" fill="#000" stroke="none"/>
<path d="M798,381.5 L787.5,383.45 L787.5,379.55 Z" fill="#000" stroke="none"/>
<path d="M798,381.5 L808.5,379.55 L808.5,383.45 Z" fill="#000" stroke="none"/>
<path d="M864.4,381.5 L853.9,383.45 L853.9,379.55 Z" fill="#000" stroke="none"/>
<text x="768.5" y="375" font-size="16" font-weight="normal" text-anchor="middle" fill="#2a2a2a">L</text>
<text x="831.5" y="375" font-size="16" font-weight="normal" text-anchor="middle" fill="#2a2a2a">M</text>
<line x1="779.5" y1="320" x2="779.5" y2="354" stroke="#666" stroke-width="1"/>
<line x1="816.5" y1="320" x2="816.5" y2="354" stroke="#666" stroke-width="1"/>
<line x1="779" y1="347.5" x2="850" y2="347.5" stroke="#666" stroke-width="1"/>
<path d="M779,347.5 L787,345.8 L787,349.2 Z" fill="#333" stroke="none"/>
<path d="M816.4,347.5 L808.4,349.2 L808.4,345.8 Z" fill="#333" stroke="none"/>
<text x="839.5" y="341" font-size="16" font-weight="normal" text-anchor="middle" fill="#2a2a2a">H</text>
<text x="649.6" y="358" font-size="15" font-weight="normal" text-anchor="start" fill="#2a2a2a" textLength="65" lengthAdjust="spacingAndGlyphs">Detail " Y "</text>
<line x1="649" y1="361.5" x2="713" y2="361.5" stroke="#000" stroke-width="1"/>
<line x1="713" y1="361.4" x2="776" y2="316" stroke="#000" stroke-width="0.8"/>
<line x1="707" y1="295.5" x2="786" y2="295.5" stroke="#000" stroke-width="1"/>
<line x1="707" y1="313.5" x2="758" y2="313.5" stroke="#000" stroke-width="1"/>
<line x1="714.5" y1="271" x2="714.5" y2="337" stroke="#000" stroke-width="1"/>
<path d="M714.5,295.4 L712.55,284.9 L716.45,284.9 Z" fill="#000" stroke="none"/>
<path d="M714.5,313.4 L716.45,323.9 L712.55,323.9 Z" fill="#000" stroke="none"/>
<text x="704" y="303.4" font-size="16" font-weight="normal" text-anchor="middle" fill="#2a2a2a" transform="rotate(-90 704 303.4)">I</text>
<clipPath id="cY"><circle cx="1082.4" cy="164.6" r="57"/></clipPath>
<g clip-path="url(#cY)">
<clipPath id="hc2"><path d="M1020,100 H1053 V164.4 H1020 Z"/></clipPath>
<g clip-path="url(#hc2)">
<line x1="955.6" y1="164.4" x2="1020" y2="100" stroke="#000" stroke-width="1.5"/>
<line x1="966.1" y1="164.4" x2="1030.5" y2="100" stroke="#000" stroke-width="1.5"/>
<line x1="976.6" y1="164.4" x2="1041" y2="100" stroke="#000" stroke-width="1.5"/>
<line x1="987.1" y1="164.4" x2="1051.5" y2="100" stroke="#000" stroke-width="1.5"/>
<line x1="997.6" y1="164.4" x2="1062" y2="100" stroke="#000" stroke-width="1.5"/>
<line x1="1008.1" y1="164.4" x2="1072.5" y2="100" stroke="#000" stroke-width="1.5"/>
<line x1="1018.6" y1="164.4" x2="1083" y2="100" stroke="#000" stroke-width="1.5"/>
<line x1="1029.1" y1="164.4" x2="1093.5" y2="100" stroke="#000" stroke-width="1.5"/>
<line x1="1039.6" y1="164.4" x2="1104" y2="100" stroke="#000" stroke-width="1.5"/>
<line x1="1050.1" y1="164.4" x2="1114.5" y2="100" stroke="#000" stroke-width="1.5"/>
</g>
<clipPath id="hc3"><path d="M1111,100 H1145 V164.4 H1111 Z"/></clipPath>
<g clip-path="url(#hc3)">
<line x1="1046.6" y1="164.4" x2="1111" y2="100" stroke="#000" stroke-width="1.5"/>
<line x1="1057.1" y1="164.4" x2="1121.5" y2="100" stroke="#000" stroke-width="1.5"/>
<line x1="1067.6" y1="164.4" x2="1132" y2="100" stroke="#000" stroke-width="1.5"/>
<line x1="1078.1" y1="164.4" x2="1142.5" y2="100" stroke="#000" stroke-width="1.5"/>
<line x1="1088.6" y1="164.4" x2="1153" y2="100" stroke="#000" stroke-width="1.5"/>
<line x1="1099.1" y1="164.4" x2="1163.5" y2="100" stroke="#000" stroke-width="1.5"/>
<line x1="1109.6" y1="164.4" x2="1174" y2="100" stroke="#000" stroke-width="1.5"/>
<line x1="1120.1" y1="164.4" x2="1184.5" y2="100" stroke="#000" stroke-width="1.5"/>
<line x1="1130.6" y1="164.4" x2="1195" y2="100" stroke="#000" stroke-width="1.5"/>
<line x1="1141.1" y1="164.4" x2="1205.5" y2="100" stroke="#000" stroke-width="1.5"/>
</g>
<rect x="1035" y="159.4" width="8" height="5" fill="#fff" stroke="#000" stroke-width="1"/>
<rect x="1122" y="159.4" width="7.6" height="5" fill="#fff" stroke="#000" stroke-width="1"/>
</g>
<circle cx="1082.4" cy="164.6" r="57" fill="none" stroke="#000" stroke-width="1"/>
<line x1="1025.4" y1="164.5" x2="1139.4" y2="164.5" stroke="#000" stroke-width="1"/>
<line x1="1053.5" y1="116" x2="1053.5" y2="164.4" stroke="#555" stroke-width="1"/>
<line x1="1111.5" y1="116" x2="1111.5" y2="164.4" stroke="#555" stroke-width="1"/>
<rect x="1061" y="127" width="42.6" height="28.4" fill="none" stroke="#000" stroke-width="1.2"/>
<line x1="1061" y1="127" x2="1082.3" y2="155.4" stroke="#000" stroke-width="1.2"/>
<line x1="1082.3" y1="127" x2="1061" y2="155.4" stroke="#000" stroke-width="1.2"/>
<line x1="1082.3" y1="127" x2="1103.6" y2="155.4" stroke="#000" stroke-width="1.2"/>
<line x1="1103.6" y1="127" x2="1082.3" y2="155.4" stroke="#000" stroke-width="1.2"/>
<rect x="1053" y="155.4" width="58" height="9" fill="#fff" stroke="#000" stroke-width="1.1"/>
<rect x="1053.5" y="135" width="3.5" height="17" fill="#222" stroke="none"/>
<line x1="1053.5" y1="141.5" x2="1057" y2="141.5" stroke="#fff" stroke-width="1"/>
<line x1="1053.5" y1="146.5" x2="1057" y2="146.5" stroke="#fff" stroke-width="1"/>
<rect x="1107.5" y="135" width="3.5" height="17" fill="#222" stroke="none"/>
<line x1="1107.5" y1="141.5" x2="1111" y2="141.5" stroke="#fff" stroke-width="1"/>
<line x1="1107.5" y1="146.5" x2="1111" y2="146.5" stroke="#fff" stroke-width="1"/>
<path d="M1034,164.4 V171.4 H1129.6 V164.4" fill="none" stroke="#000" stroke-width="1" stroke-dasharray="6 3"/>
<line x1="1082.5" y1="101" x2="1082.5" y2="213" stroke="#000" stroke-width="1" stroke-dasharray="20 3 3 3"/>
<line x1="1153.5" y1="111" x2="1153.5" y2="188" stroke="#000" stroke-width="1"/>
<path d="M1153.5,155.2 L1151.55,147.2 L1155.45,147.2 Z" fill="#000" stroke="none"/>
<path d="M1153.5,164.4 L1155.45,172.4 L1151.55,172.4 Z" fill="#000" stroke="none"/>
<line x1="1117" y1="155.5" x2="1160" y2="155.5" stroke="#000" stroke-width="1"/>
<line x1="1145" y1="164.5" x2="1160" y2="164.5" stroke="#000" stroke-width="1"/>
<text x="1147" y="122.5" font-size="16" font-weight="normal" text-anchor="middle" fill="#2a2a2a" transform="rotate(-90 1147 122.5)">h</text>
<text x="1113" y="229" font-size="15" font-weight="normal" text-anchor="start" fill="#2a2a2a" textLength="64" lengthAdjust="spacingAndGlyphs">Detail " Y "</text>
<rect x="1031.6" y="254.4" width="102" height="20.6" rx="10.3" fill="none" stroke="#000" stroke-width="1.2"/>
<text x="1082.2" y="268.5" font-size="13.5" font-weight="normal" text-anchor="middle" fill="#2a2a2a" textLength="88" lengthAdjust="spacingAndGlyphs">VDI/VDE 3845</text>
<circle cx="1082.4" cy="321" r="36" fill="none" stroke="#000" stroke-width="0.9"/>
<line x1="1053" y1="321.5" x2="1112" y2="321.5" stroke="#888" stroke-width="1" stroke-dasharray="8 2 2 2"/>
<line x1="1082.5" y1="288" x2="1082.5" y2="355" stroke="#555" stroke-width="1" stroke-dasharray="10 2 2 2"/>
<circle cx="1066.6" cy="321" r="8" fill="none" stroke="#000" stroke-width="2.4"/>
<circle cx="1098.6" cy="321" r="8" fill="none" stroke="#000" stroke-width="2.4"/>
<line x1="1066.5" y1="293.3" x2="1066.5" y2="333.5" stroke="#000" stroke-width="1"/>
<line x1="1098.5" y1="309.6" x2="1098.5" y2="353" stroke="#000" stroke-width="1"/>
<circle cx="1066.6" cy="299.4" r="3" fill="none" stroke="#000" stroke-width="1.4"/>
<circle cx="1082.4" cy="299.4" r="3" fill="none" stroke="#000" stroke-width="1.4"/>
<circle cx="1082.4" cy="342.4" r="3" fill="none" stroke="#000" stroke-width="1.4"/>
<circle cx="1098.6" cy="342.4" r="3" fill="none" stroke="#000" stroke-width="1.4"/>
<line x1="1059" y1="299.5" x2="1090" y2="299.5" stroke="#000" stroke-width="1"/>
<line x1="1075" y1="342.5" x2="1106" y2="342.5" stroke="#000" stroke-width="1"/>
<line x1="1025" y1="299.5" x2="1053" y2="299.5" stroke="#000" stroke-width="1"/>
<line x1="1025" y1="342.5" x2="1069" y2="342.5" stroke="#000" stroke-width="1"/>
<line x1="1031.5" y1="300.4" x2="1031.5" y2="341.4" stroke="#000" stroke-width="1"/>
<path d="M1031.5,300.4 L1033.45,310.9 L1029.55,310.9 Z" fill="#000" stroke="none"/>
<path d="M1031.5,341.4 L1029.55,330.9 L1033.45,330.9 Z" fill="#000" stroke="none"/>
<text x="1025" y="321" font-size="16" font-weight="normal" text-anchor="middle" fill="#2a2a2a" transform="rotate(-90 1025 321)">R</text>
<line x1="1105" y1="340.4" x2="1132" y2="330.4" stroke="#000" stroke-width="0.8"/>
<line x1="1132" y1="330.5" x2="1159" y2="330.5" stroke="#000" stroke-width="1"/>
<path d="M1105,340.4 L1111.95,336.12 L1113.06,339.12 Z" fill="#000" stroke="none"/>
<text x="1151.5" y="326" font-size="15" font-weight="normal" text-anchor="middle" fill="#2a2a2a">D</text>
<line x1="1066.5" y1="338" x2="1066.5" y2="394" stroke="#000" stroke-width="1"/>
<line x1="1098.5" y1="358.6" x2="1098.5" y2="394" stroke="#000" stroke-width="1"/>
<line x1="1043" y1="386.5" x2="1123" y2="386.5" stroke="#000" stroke-width="1"/>
<path d="M1066,386.5 L1055.5,388.45 L1055.5,384.55 Z" fill="#000" stroke="none"/>
<path d="M1098.4,386.5 L1108.9,384.55 L1108.9,388.45 Z" fill="#000" stroke="none"/>
<text x="1083.3" y="380" font-size="16" font-weight="normal" text-anchor="middle" fill="#2a2a2a" font-style="italic">S</text>
<text x="1113" y="372" font-size="15" font-weight="normal" text-anchor="start" fill="#2a2a2a" textLength="64" lengthAdjust="spacingAndGlyphs">Detail " X "</text>
<text x="147.5" y="411" font-size="14" font-weight="bold" text-anchor="middle" fill="#000" textLength="101" lengthAdjust="spacingAndGlyphs">"Model AT801"</text>
<text x="140" y="436" font-size="16" font-weight="normal" text-anchor="middle" fill="#2a2a2a">C</text>
<line x1="71.4" y1="442.5" x2="209.6" y2="442.5" stroke="#000" stroke-width="1"/>
<path d="M71.4,442.5 L81.9,440.55 L81.9,444.45 Z" fill="#000" stroke="none"/>
<path d="M209.6,442.5 L199.1,444.45 L199.1,440.55 Z" fill="#000" stroke="none"/>
<line x1="70.5" y1="435" x2="70.5" y2="660" stroke="#000" stroke-width="1"/>
<line x1="210.5" y1="435" x2="210.5" y2="490" stroke="#000" stroke-width="1"/>
<path d="M122.6,479.2 V461.5 Q122.6,459.3 125,459.3 H165 Q167.5,459.3 167.5,461.5 V479.2" fill="none" stroke="#000" stroke-width="1.2"/>
<line x1="122.6" y1="463.5" x2="167.5" y2="463.5" stroke="#000" stroke-width="1"/>
<path d="M115.4,486 L117.5,481.5 Q118.5,479.6 121,479.6 H169 Q171.5,479.6 172.5,481.5 L174.5,486" fill="none" stroke="#000" stroke-width="1.1"/>
<line x1="115.4" y1="486.5" x2="174.5" y2="486.5" stroke="#000" stroke-width="1"/>
<line x1="181" y1="486.5" x2="286" y2="486.5" stroke="#000" stroke-width="1"/>
<line x1="200" y1="629.5" x2="286" y2="629.5" stroke="#000" stroke-width="1"/>
<line x1="280.5" y1="487.6" x2="280.5" y2="628.4" stroke="#000" stroke-width="1"/>
<path d="M280.5,487.6 L282.45,498.1 L278.55,498.1 Z" fill="#000" stroke="none"/>
<path d="M280.5,628.4 L278.55,617.9 L282.45,617.9 Z" fill="#000" stroke="none"/>
<text x="273" y="540" font-size="16" font-weight="normal" text-anchor="middle" fill="#2a2a2a" transform="rotate(-90 273 540)">B</text>
<path d="M179,494 H208 Q210.4,494 210.4,496.5 V522" fill="none" stroke="#000" stroke-width="1.1"/>
<path d="M111.6,494 H100 Q97.4,494 97.4,497 V507" fill="none" stroke="#000" stroke-width="1.1"/>
<line x1="99" y1="500.5" x2="108" y2="500.5" stroke="#666" stroke-width="1"/>
<rect x="211.2" y="498" width="9.5" height="19.5" fill="none" stroke="#000" stroke-width="1.1"/>
<rect x="222" y="499" width="8" height="18.5" rx="1" fill="none" stroke="#000" stroke-width="1.1"/>
<line x1="211.2" y1="507.5" x2="220.7" y2="507.5" stroke="#000" stroke-width="1"/>
<line x1="222" y1="503.5" x2="230" y2="503.5" stroke="#000" stroke-width="1"/>
<line x1="222" y1="507.5" x2="230" y2="507.5" stroke="#000" stroke-width="1"/>
<line x1="222" y1="512.5" x2="230" y2="512.5" stroke="#000" stroke-width="1"/>
<path d="M99,603 V609 Q99,614 91,620 V627.4 Q91,629.2 93,629.2 H197.5 Q199.5,629.2 199.5,627.4 V620 Q191.5,614 191.5,609 V603" fill="none" stroke="#000" stroke-width="1.2"/>
<line x1="92" y1="629" x2="198.5" y2="629" stroke="#000" stroke-width="2"/>
<line x1="94" y1="619.5" x2="193.4" y2="619.5" stroke="#000" stroke-width="1"/>
<line x1="91" y1="622.5" x2="199" y2="622.5" stroke="#000" stroke-width="1"/>
<circle cx="145.6" cy="554.4" r="66" fill="#fff" stroke="#000" stroke-width="1.4"/>
<circle cx="145.6" cy="554.4" r="62.5" fill="none" stroke="#000" stroke-width="1"/>
<path d="M125.67,493.06 A64.5,64.5 0 0 1 165.53,493.06" fill="none" stroke="#000" stroke-width="1"/>
<path d="M82,548 H73 Q70.5,548 70.5,550.5 V559.5 Q70.5,562 73,562 H82" fill="none" stroke="#000" stroke-width="1.1"/>
<path d="M210,544 H220.5 Q223,544 223,546.5 V577.5 Q223,580 220.5,580 H210" fill="none" stroke="#000" stroke-width="1.1"/>
<circle cx="207.5" cy="580.04" r="6.8" fill="#fff" stroke="#000" stroke-width="1.6"/>
<circle cx="207.5" cy="580.04" r="4.3" fill="#fff" stroke="#000" stroke-width="1.3"/>
<circle cx="171.24" cy="616.3" r="6.8" fill="#fff" stroke="#000" stroke-width="1.6"/>
<circle cx="171.24" cy="616.3" r="4.3" fill="#fff" stroke="#000" stroke-width="1.3"/>
<circle cx="119.96" cy="616.3" r="6.8" fill="#fff" stroke="#000" stroke-width="1.6"/>
<circle cx="119.96" cy="616.3" r="4.3" fill="#fff" stroke="#000" stroke-width="1.3"/>
<circle cx="83.7" cy="580.04" r="6.8" fill="#fff" stroke="#000" stroke-width="1.6"/>
<circle cx="83.7" cy="580.04" r="4.3" fill="#fff" stroke="#000" stroke-width="1.3"/>
<circle cx="83.7" cy="528.76" r="6.8" fill="#fff" stroke="#000" stroke-width="1.6"/>
<circle cx="83.7" cy="528.76" r="4.3" fill="#fff" stroke="#000" stroke-width="1.3"/>
<circle cx="119.96" cy="492.5" r="6.8" fill="#fff" stroke="#000" stroke-width="1.6"/>
<circle cx="119.96" cy="492.5" r="4.3" fill="#fff" stroke="#000" stroke-width="1.3"/>
<circle cx="171.24" cy="492.5" r="6.8" fill="#fff" stroke="#000" stroke-width="1.6"/>
<circle cx="171.24" cy="492.5" r="4.3" fill="#fff" stroke="#000" stroke-width="1.3"/>
<circle cx="207.5" cy="528.76" r="6.8" fill="#fff" stroke="#000" stroke-width="1.6"/>
<circle cx="207.5" cy="528.76" r="4.3" fill="#fff" stroke="#000" stroke-width="1.3"/>
<path d="M125.15,605.02 A54.6,54.6 0 1 1 166.05,605.02" fill="none" stroke="#000" stroke-width="1.2"/>
<rect x="128.5" y="512.6" width="32.1" height="11" rx="2" fill="none" stroke="#000" stroke-width="1.2"/>
<line x1="56" y1="554.5" x2="259" y2="554.5" stroke="#000" stroke-width="1" stroke-dasharray="20 3 3 3"/>
<line x1="145.5" y1="466" x2="145.5" y2="660" stroke="#000" stroke-width="1" stroke-dasharray="20 3 3 3"/>
<line x1="252.5" y1="554.4" x2="252.5" y2="629.4" stroke="#000" stroke-width="1"/>
<path d="M252.5,554.4 L254.45,564.9 L250.55,564.9 Z" fill="#000" stroke="none"/>
<path d="M252.5,629.4 L250.55,618.9 L254.45,618.9 Z" fill="#000" stroke="none"/>
<text x="246" y="592" font-size="16" font-weight="normal" text-anchor="middle" fill="#2a2a2a" transform="rotate(-90 246 592)">X</text>
<line x1="223.5" y1="583" x2="223.5" y2="660" stroke="#000" stroke-width="1"/>
<line x1="70.4" y1="654.5" x2="223.6" y2="654.5" stroke="#000" stroke-width="1"/>
<path d="M70.4,654.5 L80.9,652.55 L80.9,656.45 Z" fill="#000" stroke="none"/>
<path d="M145.6,654.5 L135.1,656.45 L135.1,652.55 Z" fill="#000" stroke="none"/>
<path d="M145.6,654.5 L156.1,652.55 L156.1,656.45 Z" fill="#000" stroke="none"/>
<path d="M223.6,654.5 L213.1,656.45 L213.1,652.55 Z" fill="#000" stroke="none"/>
<text x="107" y="648" font-size="16" font-weight="normal" text-anchor="middle" fill="#2a2a2a">L</text>
<text x="186" y="648" font-size="16" font-weight="normal" text-anchor="middle" fill="#2a2a2a">M</text>
<line x1="371" y1="482.5" x2="592" y2="482.5" stroke="#000" stroke-width="1"/>
<line x1="371" y1="487.5" x2="592" y2="487.5" stroke="#000" stroke-width="1"/>
<line x1="371" y1="514.5" x2="592" y2="514.5" stroke="#000" stroke-width="1"/>
<line x1="371" y1="578.5" x2="592" y2="578.5" stroke="#000" stroke-width="1"/>
<line x1="371" y1="610.5" x2="592" y2="610.5" stroke="#000" stroke-width="1"/>
<line x1="380" y1="621.5" x2="583" y2="621.5" stroke="#000" stroke-width="1"/>
<line x1="371.5" y1="482.4" x2="371.5" y2="604" stroke="#000" stroke-width="1"/>
<line x1="592.5" y1="482.4" x2="592.5" y2="604" stroke="#000" stroke-width="1"/>
<line x1="385.5" y1="482.4" x2="385.5" y2="621.4" stroke="#000" stroke-width="1"/>
<line x1="577.5" y1="482.4" x2="577.5" y2="621.4" stroke="#000" stroke-width="1"/>
<line x1="380.5" y1="515" x2="380.5" y2="578" stroke="#777" stroke-width="1"/>
<line x1="582.5" y1="515" x2="582.5" y2="578" stroke="#777" stroke-width="1"/>
<line x1="380.5" y1="604" x2="380.5" y2="621.4" stroke="#000" stroke-width="1"/>
<line x1="582.5" y1="604" x2="582.5" y2="621.4" stroke="#000" stroke-width="1"/>
<path d="M371,482.4 L342,496 Q326.4,546 342,596 L371,610" fill="none" stroke="#000" stroke-width="1.2"/>
<path d="M342.3,498 Q340.5,546 342.3,594" fill="none" stroke="#444" stroke-width="1"/>
<rect x="363.6" y="488.5" width="7.4" height="16.5" fill="none" stroke="#000" stroke-width="1"/>
<line x1="363.6" y1="492.5" x2="371" y2="492.5" stroke="#000" stroke-width="1"/>
<line x1="363.6" y1="501.5" x2="371" y2="501.5" stroke="#000" stroke-width="1"/>
<rect x="363.6" y="587" width="7.4" height="16.6" fill="none" stroke="#000" stroke-width="1"/>
<line x1="363.6" y1="590.5" x2="371" y2="590.5" stroke="#000" stroke-width="1"/>
<line x1="363.6" y1="600.5" x2="371" y2="600.5" stroke="#000" stroke-width="1"/>
<path d="M363.6,493.4 Q351,498 346,506.2 Q350,509.5 371,510.5" fill="none" stroke="#000" stroke-width="1.1"/>
<path d="M371,581.6 Q350,582.5 346,588 Q351,595 364,597" fill="none" stroke="#000" stroke-width="1.1"/>
<g transform="translate(963.0 0) scale(-1 1)"><path d="M371,482.4 L342,496 Q326.4,546 342,596 L371,610" fill="none" stroke="#000" stroke-width="1.2"/><path d="M342.3,498 Q340.5,546 342.3,594" fill="none" stroke="#444" stroke-width="1"/><rect x="363.6" y="488.5" width="7.4" height="16.5" fill="none" stroke="#000" stroke-width="1"/><line x1="363.6" y1="492.5" x2="371" y2="492.5" stroke="#000" stroke-width="1"/><line x1="363.6" y1="501.5" x2="371" y2="501.5" stroke="#000" stroke-width="1"/><rect x="363.6" y="587" width="7.4" height="16.6" fill="none" stroke="#000" stroke-width="1"/><line x1="363.6" y1="590.5" x2="371" y2="590.5" stroke="#000" stroke-width="1"/><line x1="363.6" y1="600.5" x2="371" y2="600.5" stroke="#000" stroke-width="1"/><path d="M363.6,493.4 Q351,498 346,506.2 Q350,509.5 371,510.5" fill="none" stroke="#000" stroke-width="1.1"/><path d="M371,581.6 Q350,582.5 346,588 Q351,595 364,597" fill="none" stroke="#000" stroke-width="1.1"/></g>
<circle cx="481.4" cy="546" r="26" fill="#fff" stroke="#000" stroke-width="1.2"/>
<circle cx="481.4" cy="546" r="20.5" fill="none" stroke="#000" stroke-width="1.2"/>
<circle cx="481.4" cy="546" r="18.4" fill="none" stroke="#000" stroke-width="1.4"/>
<path d="M478.2,531.4 L484.6,531.4 L496,542.8 L496,549.2 L484.6,560.6 L478.2,560.6 L466.8,549.2 L466.8,542.8 Z" fill="none" stroke="#000" stroke-width="1.3"/>
<circle cx="481.4" cy="546" r="11.3" fill="none" stroke="#555" stroke-width="1.0"/>
<line x1="476.9" y1="534.5" x2="485.9" y2="534.5" stroke="#000" stroke-width="1"/>
<line x1="476.9" y1="557.5" x2="485.9" y2="557.5" stroke="#000" stroke-width="1"/>
<circle cx="481.4" cy="546" r="4.1" fill="none" stroke="#000" stroke-width="1.5"/>
<line x1="471.9" y1="546.5" x2="490.9" y2="546.5" stroke="#000" stroke-width="1"/>
<path d="M475.4,563 Q475.4,569 481.4,569 Q487.4,569 487.4,563" fill="none" stroke="#000" stroke-width="1.3"/>
<line x1="478.5" y1="563.5" x2="478.5" y2="568" stroke="#000" stroke-width="1"/>
<line x1="484.5" y1="563.5" x2="484.5" y2="568" stroke="#000" stroke-width="1"/>
<circle cx="412.4" cy="528.6" r="3.6" fill="none" stroke="#000" stroke-width="1.7"/>
<line x1="405.4" y1="528.5" x2="419.4" y2="528.5" stroke="#000" stroke-width="1"/>
<line x1="412.5" y1="521.6" x2="412.5" y2="535.6" stroke="#000" stroke-width="1"/>
<circle cx="412.4" cy="563.6" r="3.6" fill="none" stroke="#000" stroke-width="1.7"/>
<line x1="405.4" y1="563.5" x2="419.4" y2="563.5" stroke="#000" stroke-width="1"/>
<line x1="412.5" y1="556.6" x2="412.5" y2="570.6" stroke="#000" stroke-width="1"/>
<circle cx="550.4" cy="528.6" r="3.6" fill="none" stroke="#000" stroke-width="1.7"/>
<line x1="543.4" y1="528.5" x2="557.4" y2="528.5" stroke="#000" stroke-width="1"/>
<line x1="550.5" y1="521.6" x2="550.5" y2="535.6" stroke="#000" stroke-width="1"/>
<circle cx="550.4" cy="563.6" r="3.6" fill="none" stroke="#000" stroke-width="1.7"/>
<line x1="543.4" y1="563.5" x2="557.4" y2="563.5" stroke="#000" stroke-width="1"/>
<line x1="550.5" y1="556.6" x2="550.5" y2="570.6" stroke="#000" stroke-width="1"/>
<line x1="412.5" y1="576" x2="412.5" y2="661" stroke="#000" stroke-width="1"/>
<line x1="550.5" y1="576" x2="550.5" y2="661" stroke="#000" stroke-width="1"/>
<text x="495" y="473" font-size="15" font-weight="normal" text-anchor="start" fill="#2a2a2a" textLength="33" lengthAdjust="spacingAndGlyphs">M5xE</text>
<line x1="494" y1="474.5" x2="531" y2="474.5" stroke="#000" stroke-width="1"/>
<line x1="531" y1="474.6" x2="548" y2="523" stroke="#000" stroke-width="0.8"/>
<path d="M548.5,524.5 L544.34,517.48 L547.36,516.42 Z" fill="#000" stroke="none"/>
<line x1="420" y1="535" x2="470" y2="485" stroke="#000" stroke-width="0.8"/>
<path d="M437,518 L432.01,525.74 L429.26,522.99 Z" fill="#000" stroke="none"/>
<path d="M453.5,501.5 L458.49,493.76 L461.24,496.51 Z" fill="#000" stroke="none"/>
<line x1="433" y1="514" x2="460" y2="541" stroke="#000" stroke-width="0.8"/>
<line x1="449" y1="497" x2="477" y2="525" stroke="#000" stroke-width="0.8"/>
<text x="441" y="506" font-size="16" font-weight="normal" text-anchor="middle" fill="#2a2a2a" transform="rotate(-45 441 506)">N</text>
<line x1="535.5" y1="505" x2="535.5" y2="588" stroke="#000" stroke-width="1"/>
<path d="M535.5,528.6 L533.55,518.1 L537.45,518.1 Z" fill="#000" stroke="none"/>
<path d="M535.5,563.6 L537.45,574.1 L533.55,574.1 Z" fill="#000" stroke="none"/>
<line x1="528" y1="528.5" x2="540" y2="528.5" stroke="#000" stroke-width="1"/>
<line x1="528" y1="563.5" x2="540" y2="563.5" stroke="#000" stroke-width="1"/>
<text x="529" y="546.5" font-size="16" font-weight="normal" text-anchor="middle" fill="#2a2a2a" transform="rotate(-90 529 546.5)">G</text>
<text x="420" y="595" font-size="15" font-weight="normal" text-anchor="start" fill="#2a2a2a" textLength="41" lengthAdjust="spacingAndGlyphs">M6x12</text>
<line x1="420" y1="598.5" x2="463.6" y2="598.5" stroke="#000" stroke-width="1"/>
<line x1="463.6" y1="598.6" x2="476" y2="552" stroke="#000" stroke-width="0.8"/>
<path d="M453.9,611 L455.4,614 H467.4 L468.9,611" fill="none" stroke="#000" stroke-width="1"/>
<rect x="455.4" y="614" width="12" height="3.5" fill="none" stroke="#000" stroke-width="1"/>
<rect x="455.4" y="617.5" width="12" height="3.5" fill="none" stroke="#000" stroke-width="1"/>
<line x1="458.5" y1="614" x2="458.5" y2="621" stroke="#000" stroke-width="1"/>
<line x1="463.5" y1="614" x2="463.5" y2="621" stroke="#000" stroke-width="1"/>
<line x1="461.5" y1="607" x2="461.5" y2="634" stroke="#000" stroke-width="1"/>
<path d="M493.9,611 L495.4,614 H507.4 L508.9,611" fill="none" stroke="#000" stroke-width="1"/>
<rect x="495.4" y="614" width="12" height="3.5" fill="none" stroke="#000" stroke-width="1"/>
<rect x="495.4" y="617.5" width="12" height="3.5" fill="none" stroke="#000" stroke-width="1"/>
<line x1="498.5" y1="614" x2="498.5" y2="621" stroke="#000" stroke-width="1"/>
<line x1="503.5" y1="614" x2="503.5" y2="621" stroke="#000" stroke-width="1"/>
<line x1="501.5" y1="607" x2="501.5" y2="634" stroke="#000" stroke-width="1"/>
<line x1="413.4" y1="654.5" x2="549.4" y2="654.5" stroke="#000" stroke-width="1"/>
<path d="M413.4,654.5 L423.9,652.55 L423.9,656.45 Z" fill="#000" stroke="none"/>
<path d="M549.4,654.5 L538.9,656.45 L538.9,652.55 Z" fill="#000" stroke="none"/>
<text x="481.3" y="648" font-size="16" font-weight="normal" text-anchor="middle" fill="#2a2a2a">F</text>
<line x1="481.5" y1="476" x2="481.5" y2="624" stroke="#000" stroke-width="1" stroke-dasharray="20 3 3 3"/>
<text x="763.5" y="464" font-size="15" font-weight="normal" text-anchor="middle" fill="#2a2a2a" textLength="49" lengthAdjust="spacingAndGlyphs">Square</text>
<text x="763.5" y="482.5" font-size="15" font-weight="normal" text-anchor="middle" fill="#2a2a2a" textLength="63" lengthAdjust="spacingAndGlyphs">Top Shaft</text>
<path d="M709.5,495.2 C708.6,499.04 708.09,499.24 706.5,508 C704.91,516.76 702.55,515.4 704.2,524.4 C705.85,533.4 708.4,530.8 712,538 C715.6,545.2 716.2,541.2 716.2,548.4 C716.2,555.6 714.01,554.02 712,562 C709.99,569.98 710.25,564.5 709.5,575 C708.75,585.5 709.5,590.4 709.5,597" fill="none" stroke="#000" stroke-width="1.3"/>
<path d="M820.2,495.2 C817.74,499.49 813.56,502.06 812,509.5 C810.44,516.94 812.99,512.35 815,520 C817.01,527.65 817.8,526.9 818.7,535 C819.6,543.1 816.41,539.38 818,547 C819.59,554.62 822.89,553.26 824,560.4 C825.11,567.54 824.61,564.98 821.7,570.8 C818.79,576.62 815.86,573.95 814.3,579.8 C812.74,585.65 814.73,585.14 816.5,590.3 C818.27,595.46 819.09,594.99 820.2,597" fill="none" stroke="#000" stroke-width="1.3"/>
<line x1="709.5" y1="495.5" x2="820.2" y2="495.5" stroke="#000" stroke-width="1"/>
<line x1="709.5" y1="596.5" x2="820.2" y2="596.5" stroke="#000" stroke-width="1"/>
<circle cx="764.5" cy="545.9" r="41" fill="none" stroke="#000" stroke-width="1.3"/>
<circle cx="764.5" cy="545.9" r="32" fill="none" stroke="#000" stroke-width="1.3"/>
<circle cx="764.5" cy="545.9" r="28.2" fill="none" stroke="#000" stroke-width="1.4"/>
<path d="M753.6,572.3 Q753.5,583 760,583 Q764,583 764,579 V574.8" fill="#fff" stroke="#000" stroke-width="1.2"/>
<path d="M775.4,572.3 Q775.5,583 769,583 Q765,583 765,579 V574.8" fill="#fff" stroke="#000" stroke-width="1.2"/>
<circle cx="759.6" cy="578.3" r="2.2" fill="none" stroke="#000" stroke-width="1"/>
<circle cx="769.3" cy="578.3" r="2.2" fill="none" stroke="#000" stroke-width="1"/>
<path d="M759.6,523.6 L769.3,523.6 L787.5,541.3 L787.5,550.4 L769.3,567.8 L759.6,567.8 L741.5,550.4 L741.5,541.3 Z" fill="none" stroke="#000" stroke-width="1.2"/>
<line x1="757.5" y1="527.5" x2="771.5" y2="527.5" stroke="#000" stroke-width="1"/>
<line x1="757.5" y1="563.5" x2="771.5" y2="563.5" stroke="#000" stroke-width="1"/>
<path d="M745.5,539 Q744.5,546 745.5,553" fill="none" stroke="#000" stroke-width="1.1"/>
<path d="M783.5,539 Q784.5,546 783.5,553" fill="none" stroke="#000" stroke-width="1.1"/>
<circle cx="764.5" cy="545.9" r="16.5" fill="#fff" stroke="#aaa" stroke-width="1.6"/>
<circle cx="764.5" cy="545.9" r="7" fill="none" stroke="#000" stroke-width="2.4"/>
<line x1="749.9" y1="545.5" x2="779" y2="545.5" stroke="#000" stroke-width="1"/>
<line x1="764.5" y1="531.7" x2="764.5" y2="560.7" stroke="#000" stroke-width="1"/>
<rect x="965.6" y="454" width="168.4" height="20" rx="10" fill="none" stroke="#000" stroke-width="1.2"/>
<text x="1050.5" y="467.5" font-size="13" font-weight="normal" text-anchor="middle" fill="#2a2a2a" textLength="152" lengthAdjust="spacingAndGlyphs">BOTTOM VIEW - ISO5211</text>
<circle cx="973" cy="579.4" r="56" fill="none" stroke="#000" stroke-width="1" stroke-dasharray="14 3 2 3"/>
<circle cx="973" cy="579.4" r="40" fill="none" stroke="#000" stroke-width="1" stroke-dasharray="14 3 2 3"/>
<circle cx="973" cy="579.4" r="31.5" fill="none" stroke="#000" stroke-width="1.4"/>
<circle cx="1012.6" cy="619" r="5.2" fill="#fff" stroke="#000" stroke-width="1.8"/>
<line x1="1008.96" y1="615.36" x2="1016.24" y2="622.64" stroke="#000" stroke-width="0.8"/>
<line x1="1008.96" y1="622.64" x2="1016.24" y2="615.36" stroke="#000" stroke-width="0.8"/>
<circle cx="1001.28" cy="607.68" r="3.8" fill="#fff" stroke="#000" stroke-width="1.6"/>
<line x1="998.62" y1="605.02" x2="1003.94" y2="610.34" stroke="#000" stroke-width="0.8"/>
<line x1="998.62" y1="610.34" x2="1003.94" y2="605.02" stroke="#000" stroke-width="0.8"/>
<line x1="1010.34" y1="616.74" x2="1004.68" y2="611.08" stroke="#000" stroke-width="0.8"/>
<circle cx="933.4" cy="619" r="5.2" fill="#fff" stroke="#000" stroke-width="1.8"/>
<line x1="929.76" y1="615.36" x2="937.04" y2="622.64" stroke="#000" stroke-width="0.8"/>
<line x1="929.76" y1="622.64" x2="937.04" y2="615.36" stroke="#000" stroke-width="0.8"/>
<circle cx="944.72" cy="607.68" r="3.8" fill="#fff" stroke="#000" stroke-width="1.6"/>
<line x1="942.06" y1="605.02" x2="947.38" y2="610.34" stroke="#000" stroke-width="0.8"/>
<line x1="942.06" y1="610.34" x2="947.38" y2="605.02" stroke="#000" stroke-width="0.8"/>
<line x1="935.66" y1="616.74" x2="941.32" y2="611.08" stroke="#000" stroke-width="0.8"/>
<circle cx="933.4" cy="539.8" r="5.2" fill="#fff" stroke="#000" stroke-width="1.8"/>
<line x1="929.76" y1="536.16" x2="937.04" y2="543.44" stroke="#000" stroke-width="0.8"/>
<line x1="929.76" y1="543.44" x2="937.04" y2="536.16" stroke="#000" stroke-width="0.8"/>
<circle cx="944.72" cy="551.12" r="3.8" fill="#fff" stroke="#000" stroke-width="1.6"/>
<line x1="942.06" y1="548.46" x2="947.38" y2="553.78" stroke="#000" stroke-width="0.8"/>
<line x1="942.06" y1="553.78" x2="947.38" y2="548.46" stroke="#000" stroke-width="0.8"/>
<line x1="935.66" y1="542.06" x2="941.32" y2="547.72" stroke="#000" stroke-width="0.8"/>
<circle cx="1012.6" cy="539.8" r="5.2" fill="#fff" stroke="#000" stroke-width="1.8"/>
<line x1="1008.96" y1="536.16" x2="1016.24" y2="543.44" stroke="#000" stroke-width="0.8"/>
<line x1="1008.96" y1="543.44" x2="1016.24" y2="536.16" stroke="#000" stroke-width="0.8"/>
<circle cx="1001.28" cy="551.12" r="3.8" fill="#fff" stroke="#000" stroke-width="1.6"/>
<line x1="998.62" y1="548.46" x2="1003.94" y2="553.78" stroke="#000" stroke-width="0.8"/>
<line x1="998.62" y1="553.78" x2="1003.94" y2="548.46" stroke="#000" stroke-width="0.8"/>
<line x1="1010.34" y1="542.06" x2="1004.68" y2="547.72" stroke="#000" stroke-width="0.8"/>
<path d="M973,559.9 L992.5,579.4 L973,598.9 L953.5,579.4 Z" fill="none" stroke="#000" stroke-width="1.4"/>
<circle cx="973" cy="579.4" r="14.5" fill="none" stroke="#000" stroke-width="1"/>
<line x1="992" y1="560.4" x2="954" y2="598.4" stroke="#444" stroke-width="0.8"/>
<line x1="954" y1="560.4" x2="992" y2="598.4" stroke="#444" stroke-width="0.8"/>
<line x1="916" y1="579.5" x2="1035" y2="579.5" stroke="#111" stroke-width="1" stroke-dasharray="18 3 3 3"/>
<line x1="973.5" y1="492.4" x2="973.5" y2="639.4" stroke="#777" stroke-width="1" stroke-dasharray="24 3 3 3"/>
<circle cx="973" cy="579.4" r="0.9" fill="#000" stroke="none"/>
<circle cx="1143.5" cy="579.7" r="56" fill="none" stroke="#000" stroke-width="1" stroke-dasharray="14 3 2 3"/>
<circle cx="1143.5" cy="579.7" r="40" fill="none" stroke="#000" stroke-width="1" stroke-dasharray="14 3 2 3"/>
<circle cx="1143.5" cy="579.7" r="31.5" fill="none" stroke="#000" stroke-width="1.4"/>
<circle cx="1183.1" cy="619.3" r="5.2" fill="#fff" stroke="#000" stroke-width="1.8"/>
<line x1="1179.46" y1="615.66" x2="1186.74" y2="622.94" stroke="#000" stroke-width="0.8"/>
<line x1="1179.46" y1="622.94" x2="1186.74" y2="615.66" stroke="#000" stroke-width="0.8"/>
<circle cx="1171.78" cy="607.98" r="3.8" fill="#fff" stroke="#000" stroke-width="1.6"/>
<line x1="1169.12" y1="605.32" x2="1174.44" y2="610.64" stroke="#000" stroke-width="0.8"/>
<line x1="1169.12" y1="610.64" x2="1174.44" y2="605.32" stroke="#000" stroke-width="0.8"/>
<line x1="1180.84" y1="617.04" x2="1175.18" y2="611.38" stroke="#000" stroke-width="0.8"/>
<circle cx="1103.9" cy="619.3" r="5.2" fill="#fff" stroke="#000" stroke-width="1.8"/>
<line x1="1100.26" y1="615.66" x2="1107.54" y2="622.94" stroke="#000" stroke-width="0.8"/>
<line x1="1100.26" y1="622.94" x2="1107.54" y2="615.66" stroke="#000" stroke-width="0.8"/>
<circle cx="1115.22" cy="607.98" r="3.8" fill="#fff" stroke="#000" stroke-width="1.6"/>
<line x1="1112.56" y1="605.32" x2="1117.88" y2="610.64" stroke="#000" stroke-width="0.8"/>
<line x1="1112.56" y1="610.64" x2="1117.88" y2="605.32" stroke="#000" stroke-width="0.8"/>
<line x1="1106.16" y1="617.04" x2="1111.82" y2="611.38" stroke="#000" stroke-width="0.8"/>
<circle cx="1103.9" cy="540.1" r="5.2" fill="#fff" stroke="#000" stroke-width="1.8"/>
<line x1="1100.26" y1="536.46" x2="1107.54" y2="543.74" stroke="#000" stroke-width="0.8"/>
<line x1="1100.26" y1="543.74" x2="1107.54" y2="536.46" stroke="#000" stroke-width="0.8"/>
<circle cx="1115.22" cy="551.42" r="3.8" fill="#fff" stroke="#000" stroke-width="1.6"/>
<line x1="1112.56" y1="548.76" x2="1117.88" y2="554.08" stroke="#000" stroke-width="0.8"/>
<line x1="1112.56" y1="554.08" x2="1117.88" y2="548.76" stroke="#000" stroke-width="0.8"/>
<line x1="1106.16" y1="542.36" x2="1111.82" y2="548.02" stroke="#000" stroke-width="0.8"/>
<circle cx="1183.1" cy="540.1" r="5.2" fill="#fff" stroke="#000" stroke-width="1.8"/>
<line x1="1179.46" y1="536.46" x2="1186.74" y2="543.74" stroke="#000" stroke-width="0.8"/>
<line x1="1179.46" y1="543.74" x2="1186.74" y2="536.46" stroke="#000" stroke-width="0.8"/>
<circle cx="1171.78" cy="551.42" r="3.8" fill="#fff" stroke="#000" stroke-width="1.6"/>
<line x1="1169.12" y1="548.76" x2="1174.44" y2="554.08" stroke="#000" stroke-width="0.8"/>
<line x1="1169.12" y1="554.08" x2="1174.44" y2="548.76" stroke="#000" stroke-width="0.8"/>
<line x1="1180.84" y1="542.36" x2="1175.18" y2="548.02" stroke="#000" stroke-width="0.8"/>
<rect x="1129" y="565.2" width="29" height="29" fill="none" stroke="#000" stroke-width="1.4"/>
<circle cx="1143.5" cy="579.7" r="14" fill="none" stroke="#000" stroke-width="1"/>
<line x1="1162.5" y1="560.7" x2="1124.5" y2="598.7" stroke="#444" stroke-width="0.8"/>
<line x1="1124.5" y1="560.7" x2="1162.5" y2="598.7" stroke="#444" stroke-width="0.8"/>
<line x1="1087" y1="579.5" x2="1199.5" y2="579.5" stroke="#111" stroke-width="1" stroke-dasharray="18 3 3 3"/>
<line x1="1143.5" y1="522.2" x2="1143.5" y2="637.2" stroke="#777" stroke-width="1" stroke-dasharray="18 3 3 3"/>
<circle cx="1143.5" cy="579.7" r="0.9" fill="#000" stroke="none"/>
<text x="970.5" y="665" font-size="15" font-weight="normal" text-anchor="middle" fill="#2a2a2a" textLength="108.6" lengthAdjust="spacingAndGlyphs">Diagonal Square</text>
<text x="1142.5" y="665" font-size="15" font-weight="normal" text-anchor="middle" fill="#2a2a2a" textLength="97" lengthAdjust="spacingAndGlyphs">Parallel Square</text>
<path d="M975.79,499.45 A80,80 0 0 1 1028.57,521.85" fill="none" stroke="#000" stroke-width="0.9"/>
<path d="M1030.55,523.83 A80,80 0 0 1 1052.95,576.61" fill="none" stroke="#000" stroke-width="0.9"/>
<path d="M975.79,499.45 L983.87,498.15 L983.7,501.55 Z" fill="#000" stroke="none"/>
<path d="M1028.57,521.85 L1021.78,517.3 L1024.21,514.93 Z" fill="#000" stroke="none"/>
<path d="M1030.55,523.83 L1037.47,528.19 L1035.1,530.62 Z" fill="#000" stroke="none"/>
<path d="M1052.95,576.61 L1051.01,568.66 L1054.41,568.56 Z" fill="#000" stroke="none"/>
<line x1="1020" y1="532" x2="1035" y2="517" stroke="#000" stroke-width="1"/>
<line x1="1035" y1="579.5" x2="1060" y2="579.5" stroke="#000" stroke-width="1"/>
<text x="1007" y="500" font-size="16" font-weight="normal" text-anchor="middle" fill="#2a2a2a" transform="rotate(28 1007 500)">45°</text>
<text x="1055" y="545" font-size="16" font-weight="normal" text-anchor="middle" fill="#2a2a2a" transform="rotate(66 1055 545)">45°</text>
<line x1="879" y1="538" x2="932" y2="486" stroke="#000" stroke-width="0.8"/>
<path d="M889,527.5 L884.01,535.24 L881.26,532.49 Z" fill="#000" stroke="none"/>
<path d="M912,505 L916.99,497.26 L919.74,500.01 Z" fill="#000" stroke="none"/>
<line x1="910" y1="500" x2="968" y2="558" stroke="#000" stroke-width="0.8"/>
<line x1="891" y1="518" x2="949" y2="576" stroke="#000" stroke-width="0.8"/>
<text x="899" y="506" font-size="16" font-weight="normal" text-anchor="middle" fill="#2a2a2a" transform="rotate(-45 899 506)">CH</text>
<text x="894" y="567" font-size="15" font-weight="normal" text-anchor="middle" fill="#2a2a2a" textLength="16" lengthAdjust="spacingAndGlyphs">Q1</text>
<line x1="881" y1="574.5" x2="906" y2="574.5" stroke="#000" stroke-width="1"/>
<line x1="906" y1="574.6" x2="918" y2="592" stroke="#000" stroke-width="0.8"/>
<path d="M918,592 L912.51,585.96 L915.26,584.32 Z" fill="#000" stroke="none"/>
<text x="902" y="609" font-size="15" font-weight="normal" text-anchor="middle" fill="#2a2a2a">Q</text>
<line x1="894" y1="615.5" x2="911" y2="615.5" stroke="#000" stroke-width="1"/>
<line x1="911" y1="615" x2="935" y2="596" stroke="#000" stroke-width="0.8"/>
<path d="M935,596 L929.75,602.25 L927.75,599.75 Z" fill="#000" stroke="none"/>
<text x="1045.5" y="594" font-size="15" font-weight="normal" text-anchor="middle" fill="#2a2a2a">W</text>
<line x1="1034" y1="598.5" x2="1056" y2="598.5" stroke="#000" stroke-width="1"/>
<line x1="1034" y1="598.4" x2="1008" y2="607" stroke="#000" stroke-width="0.8"/>
<path d="M1008,607 L1015.02,602.85 L1016.08,605.87 Z" fill="#000" stroke="none"/>
<text x="1059" y="612" font-size="15" font-weight="normal" text-anchor="middle" fill="#2a2a2a" textLength="18" lengthAdjust="spacingAndGlyphs">W1</text>
<line x1="1048" y1="616.5" x2="1070" y2="616.5" stroke="#000" stroke-width="1"/>
<line x1="1048" y1="616" x2="1019" y2="618" stroke="#000" stroke-width="0.8"/>
<path d="M1019,618 L1026.87,615.85 L1027.09,619.04 Z" fill="#000" stroke="none"/>
</svg>
</body></html>
